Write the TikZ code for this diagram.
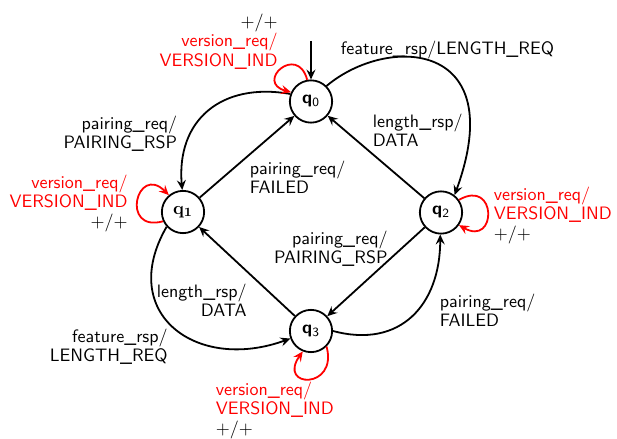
\documentclass[tikz,border=0pt]{standalone}
\usetikzlibrary{arrows.meta}
\begin{document}
\begin{tikzpicture}[x=0.556pt,y=-0.556pt,
  font={\sffamily\fontsize{10}{10.8}\selectfont},
  >={Stealth[length=5.5pt,width=5pt,inset=2pt]},
  every path/.style={line width=1pt},
  state/.style={draw,circle,line width=1pt,minimum size=23.5pt,inner sep=0pt},
  lab/.style={inner sep=0pt,text=black},
  loopline/.style={red,line width=1pt,->}]
\useasboundingbox (0,0) rectangle (617,439);

\node[state] (q0) at (311,101.5) {\textbf{q}\textsubscript{0}};
\node[state] (q1) at (183,212)   {$\mathbf{q_1}$};
\node[state] (q2) at (441,212.5) {\textbf{q}\textsubscript{2}};
\node[state] (q3) at (311,331)   {\textbf{q}\textsubscript{3}};
\coordinate (init) at (311,41);

% initial arrow
\draw[->] (init) -- (q0);

% straight edges
\draw[->] (q1) -- (q0);
\draw[->] (q2) -- (q0);
\draw[->] (q2) -- (q3);
\draw[->] (q3) -- (q1);

% curved edges (y axis points down: polar angles negated)
\draw[->] (q0.45) .. controls +(-40:80) and +(-70:165) .. (q2.52);
\draw[->] (q0.160) .. controls +(-170:70) and +(-95:70) .. (q1.92);
\draw[->] (q1.222) .. controls +(-240:100) and +(-200:100) .. (q3.200);
\draw[->] (q3.0) .. controls +(15:70) and +(90:70) .. (q2.268);

% self loops
\draw[loopline] (q0.100) .. controls +(-105:38) and +(-165:38) .. (q0.155);
\draw[loopline] (q1.205) .. controls +(-195:45) and +(-135:45) .. (q1.130);
\draw[loopline] (q2.35) .. controls +(-30:44) and +(30:44) .. (q2.-35);
\draw[loopline] (q3.-45) .. controls +(75:45) and +(125:45) .. (q3.-112);

% loop labels
\node[lab,align=right,anchor=north east] (l0) at (278.5,13)
  {$+/+$\\\textcolor{red}{version\_req/}\\\textcolor{red}{VERSION\_IND}};
\node[lab,align=right,anchor=north east] (l1) at (128.5,174)
  {\textcolor{red}{version\_req/}\\\textcolor{red}{VERSION\_IND}\\$+/+$};
\node[lab,align=left,anchor=north west] (l2) at (493,186)
  {\textcolor{red}{version\_req/}\\\textcolor{red}{VERSION\_IND}\\$+/+$};
\node[lab,align=left,anchor=north west] (l3) at (215,381)
  {\textcolor{red}{version\_req/}\\\textcolor{red}{VERSION\_IND}\\$+/+$};

% edge labels
\node[lab,anchor=north west] (e02) at (340,40) {feature\_rsp/LENGTH\_REQ};
\node[lab,align=left,anchor=north west] (e20) at (372,113) {length\_rsp/\\DATA};
\node[lab,align=right,anchor=north east] (e01) at (178,115) {pairing\_req/\\PAIRING\_RSP};
\node[lab,align=left,anchor=north west] (e10) at (249,160) {pairing\_req/\\FAILED};
\node[lab,align=right,anchor=north east] (e31) at (247.5,283) {length\_rsp/\\DATA};
\node[lab,align=right,anchor=north east] (e13) at (168.5,328) {feature\_rsp/\\LENGTH\_REQ};
\node[lab,align=right,anchor=north east] (e23) at (388.5,230) {pairing\_req/\\PAIRING\_RSP};
\node[lab,align=left,anchor=north west] (e32) at (439,293) {pairing\_req/\\FAILED};
\end{tikzpicture}
\end{document}
